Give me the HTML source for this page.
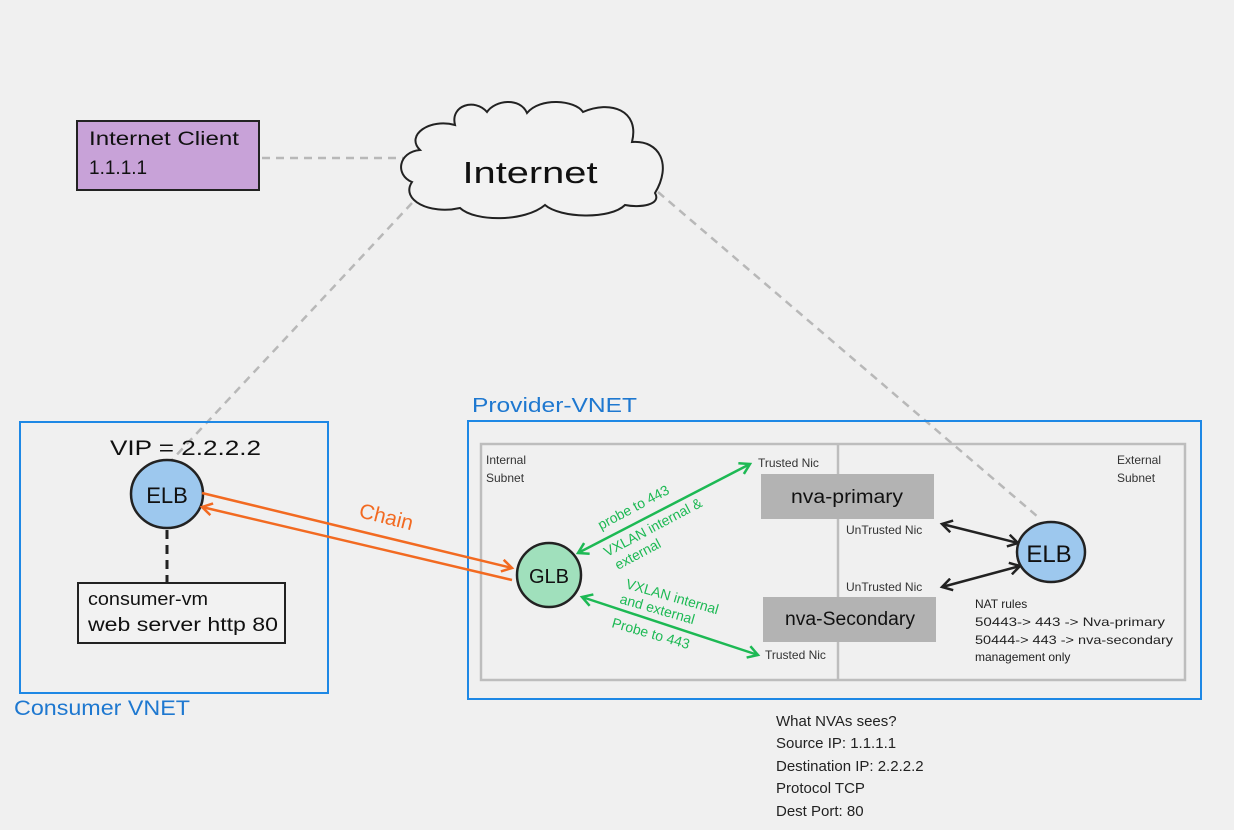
<!DOCTYPE html>
<html><head><meta charset="utf-8"><style>
html,body{margin:0;padding:0;background:#f0f0f0;}
svg{display:block;font-family:"Liberation Sans",sans-serif;}
</style></head><body>
<svg width="1234" height="830" viewBox="0 0 1234 830" xmlns="http://www.w3.org/2000/svg">
<defs>
<marker id="ao" markerWidth="14" markerHeight="14" refX="11" refY="7" orient="auto-start-reverse" markerUnits="userSpaceOnUse"><path d="M1,1 L11,7 L1,13" fill="none" stroke="#f26a21" stroke-width="2.5"/></marker>
<marker id="ag" markerWidth="14" markerHeight="14" refX="11" refY="7" orient="auto-start-reverse" markerUnits="userSpaceOnUse"><path d="M1,1 L11,7 L1,13" fill="none" stroke="#1db954" stroke-width="2.5"/></marker>
<marker id="ak" markerWidth="14" markerHeight="14" refX="11" refY="7" orient="auto-start-reverse" markerUnits="userSpaceOnUse"><path d="M1,1 L11,7 L1,13" fill="none" stroke="#222" stroke-width="2.5"/></marker>
</defs>
<rect width="1234" height="830" fill="#f0f0f0"/>

<g stroke="#b8b8b8" stroke-width="2.5" stroke-dasharray="8,6" fill="none">
<line x1="262" y1="158" x2="410" y2="158"/>
<line x1="412" y1="203" x2="170" y2="462"/>
<line x1="658" y1="192" x2="1038" y2="517"/>
</g>

<path d="M455,125 C450,105 475,98 487,112 C495,100 520,97 527,113 C540,97 575,100 583,112 C610,100 640,110 632,142 C660,140 672,165 655,193 C662,205 640,208 625,205 C610,220 560,218 545,205 C525,222 475,222 460,208 C430,215 400,200 412,182 C395,175 398,152 420,150 C405,135 430,118 455,125 Z" fill="#f2f2f2" stroke="#222" stroke-width="2"/>
<text x="530" y="183" font-size="31" text-anchor="middle" fill="#111" textLength="135" lengthAdjust="spacingAndGlyphs">Internet</text>

<rect x="77" y="121" width="182" height="69" fill="#c8a2d8" stroke="#222" stroke-width="2"/>
<text x="89" y="145" font-size="19" fill="#111" textLength="150" lengthAdjust="spacingAndGlyphs">Internet Client</text>
<text x="89" y="174" font-size="19" fill="#111">1.1.1.1</text>

<rect x="20" y="422" width="308" height="271" fill="none" stroke="#1e88e5" stroke-width="2"/>
<text x="14" y="715" font-size="21" fill="#1e78d0" textLength="176" lengthAdjust="spacingAndGlyphs">Consumer VNET</text>
<text x="110" y="455" font-size="21" fill="#111" textLength="151" lengthAdjust="spacingAndGlyphs">VIP = 2.2.2.2</text>
<line x1="167" y1="530" x2="167" y2="582" stroke="#222" stroke-width="3" stroke-dasharray="9,6"/>
<ellipse cx="167" cy="494" rx="36" ry="34" fill="#9dc8ee" stroke="#222" stroke-width="2.5"/>
<text x="167" y="503" font-size="22" text-anchor="middle" fill="#111">ELB</text>
<rect x="78" y="583" width="207" height="60" fill="#f2f2f2" stroke="#222" stroke-width="2"/>
<text x="88" y="605" font-size="18" fill="#111" textLength="120" lengthAdjust="spacingAndGlyphs">consumer-vm</text>
<text x="88" y="631" font-size="19" fill="#111" textLength="190" lengthAdjust="spacingAndGlyphs">web server http 80</text>

<rect x="468" y="421" width="733" height="278" fill="none" stroke="#1e88e5" stroke-width="2"/>
<text x="472" y="412" font-size="20" fill="#1e78d0" textLength="165" lengthAdjust="spacingAndGlyphs">Provider-VNET</text>
<rect x="481" y="444" width="704" height="236" fill="none" stroke="#bdbdbd" stroke-width="2.5"/>
<line x1="838" y1="444" x2="838" y2="680" stroke="#bdbdbd" stroke-width="2.5"/>
<text x="486" y="464" font-size="12" fill="#333">Internal</text>
<text x="486" y="482" font-size="12" fill="#333">Subnet</text>
<text x="1117" y="464" font-size="12" fill="#333">External</text>
<text x="1117" y="482" font-size="12" fill="#333">Subnet</text>

<rect x="761" y="474" width="173" height="45" fill="#b3b3b3"/>
<text x="847" y="503" font-size="19" text-anchor="middle" fill="#111" textLength="112" lengthAdjust="spacingAndGlyphs">nva-primary</text>
<rect x="763" y="597" width="173" height="45" fill="#b3b3b3"/>
<text x="850" y="625" font-size="19" text-anchor="middle" fill="#111" textLength="130" lengthAdjust="spacingAndGlyphs">nva-Secondary</text>

<text x="758" y="467" font-size="12" fill="#333">Trusted Nic</text>
<text x="765" y="659" font-size="12" fill="#333">Trusted Nic</text>
<text x="846" y="534" font-size="12" fill="#333">UnTrusted Nic</text>
<text x="846" y="591" font-size="12" fill="#333">UnTrusted Nic</text>

<line x1="202" y1="493" x2="512" y2="568" stroke="#f26a21" stroke-width="2.5" marker-end="url(#ao)"/>
<line x1="512" y1="580" x2="202" y2="507" stroke="#f26a21" stroke-width="2.5" marker-end="url(#ao)"/>
<text x="358" y="517" font-size="21" fill="#f26a21" transform="rotate(14 358 517)">Chain</text>

<line x1="578" y1="553" x2="750" y2="464" stroke="#1db954" stroke-width="2.5" marker-start="url(#ag)" marker-end="url(#ag)"/>
<line x1="582" y1="597" x2="758" y2="655" stroke="#1db954" stroke-width="2.5" marker-start="url(#ag)" marker-end="url(#ag)"/>
<g fill="#1db954" font-size="14">
<text x="601" y="530" transform="rotate(-28 601 530)">probe to 443</text>
<text x="607" y="557" transform="rotate(-28 607 557)">VXLAN internal &amp;</text>
<text x="618" y="570" transform="rotate(-28 618 570)">external</text>
<text x="625" y="588" transform="rotate(16 625 588)">VXLAN internal</text>
<text x="619" y="603" transform="rotate(16 619 603)">and external</text>
<text x="611" y="627" transform="rotate(16 611 627)">Probe to 443</text>
</g>

<ellipse cx="549" cy="575" rx="32" ry="32" fill="#a0e0bc" stroke="#222" stroke-width="2.5"/>
<text x="549" y="583" font-size="20" text-anchor="middle" fill="#111">GLB</text>

<line x1="942" y1="524" x2="1018" y2="543" stroke="#222" stroke-width="2.5" marker-start="url(#ak)" marker-end="url(#ak)"/>
<line x1="942" y1="587" x2="1020" y2="566" stroke="#222" stroke-width="2.5" marker-start="url(#ak)" marker-end="url(#ak)"/>

<ellipse cx="1051" cy="552" rx="34" ry="30" fill="#9dc8ee" stroke="#222" stroke-width="2.5"/>
<text x="1049" y="562" font-size="24" text-anchor="middle" fill="#111">ELB</text>

<g font-size="12" fill="#222">
<text x="975" y="608">NAT rules</text>
<text x="975" y="626" textLength="190" lengthAdjust="spacingAndGlyphs">50443-&gt; 443 -&gt; Nva-primary</text>
<text x="975" y="644" textLength="198" lengthAdjust="spacingAndGlyphs">50444-&gt; 443 -&gt; nva-secondary</text>
<text x="975" y="661">management only</text>
</g>

<g font-size="15" fill="#222">
<text x="776" y="726">What NVAs sees?</text>
<text x="776" y="748">Source IP: 1.1.1.1</text>
<text x="776" y="771">Destination IP: 2.2.2.2</text>
<text x="776" y="793">Protocol TCP</text>
<text x="776" y="816">Dest Port: 80</text>
</g>
</svg>
</body></html>
